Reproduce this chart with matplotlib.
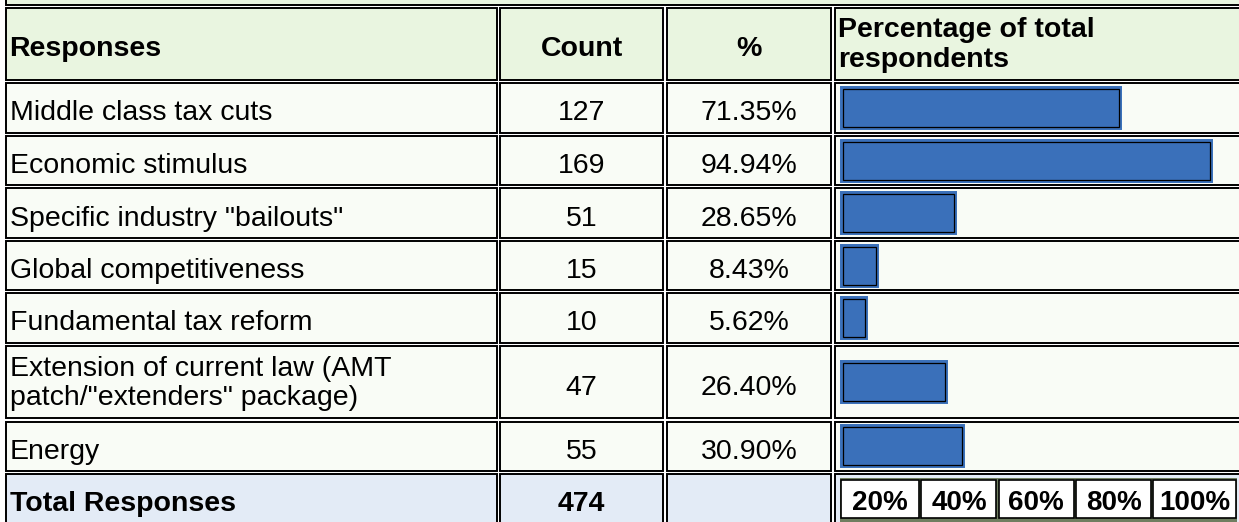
import matplotlib.pyplot as plt
from matplotlib.patches import Rectangle
import matplotlib.patheffects as pe

# table contents
headers = ['Responses', 'Count', '%', 'Percentage of total\nrespondents']
responses = ['Middle class tax cuts', 'Economic stimulus', 'Specific industry "bailouts"',
             'Global competitiveness', 'Fundamental tax reform',
             'Extension of current law (AMT\npatch/"extenders" package)', 'Energy']
counts = [127, 169, 51, 15, 10, 47, 55]
percents = [71.35, 94.94, 28.65, 8.43, 5.62, 26.40, 30.90]
total_label = 'Total Responses'
total_count = 474
scale_ticks = [20, 40, 60, 80, 100]

W, H = 1239, 522
FS = 20.5          # font size in pt (~28.5 px)
LINE_H = 29.5      # px between wrapped lines
BLUE = '#3a70ba'
HEAD_BG = '#e9f5e0'
ROW_BG = '#f9fcf6'
TOTAL_BG = '#e3ebf6'
plt.rcParams['font.family'] = ['Liberation Sans', 'DejaVu Sans']

# cell boundaries in pixels (layout only)
col_edges = [4.5, 498.5, 665, 833, 1250]
row_edges = [6.5, 81.5, 134.5, 186.5, 239.5, 291.5, 344.5, 420, 472.5, 540]

fig = plt.figure(figsize=(W / 100, H / 100), dpi=100)
fig.patch.set_facecolor('white')
ax = fig.add_axes([0, 0, 1, 1])
ax.set_xlim(0, W)
ax.set_ylim(H, 0)
ax.axis('off')


def cell(x0, x1, y0, y1, color):
    ax.add_patch(Rectangle((x0 + 1.6, y0 + 1.6), x1 - x0 - 3.2, y1 - y0 - 3.2,
                           facecolor=color, edgecolor='black', linewidth=1.4))


def cell_text(text, x0, x1, y0, y1, align='left', bold=False):
    lines = text.split('\n')
    n = len(lines)
    yc = (y0 + y1) / 2
    off = 12.5 if n == 1 else 8
    if align == 'left':
        x, ha = x0 + 5, 'left'
    else:
        x, ha = (x0 + x1) / 2, 'center'
    for i, ln in enumerate(lines):
        y = yc + off + (i - (n - 1) / 2) * LINE_H
        ax.text(x, y, ln, ha=ha, va='baseline', fontsize=FS,
                fontweight='bold' if bold else 'normal', color='black')


# cropped title strip above the table
cell(col_edges[0], col_edges[-1], -60, row_edges[0], HEAD_BG)

# header row
for j, h in enumerate(headers):
    x0, x1 = col_edges[j], col_edges[j + 1]
    y0, y1 = row_edges[0], row_edges[1]
    cell(x0, x1, y0, y1, HEAD_BG)
    cell_text(h, x0, x1, y0, y1, align='center' if j in (1, 2) else 'left', bold=True)

# data rows
for i, (name, c, p) in enumerate(zip(responses, counts, percents)):
    y0, y1 = row_edges[i + 1], row_edges[i + 2]
    for j in range(4):
        cell(col_edges[j], col_edges[j + 1], y0, y1, ROW_BG)
    cell_text(name, col_edges[0], col_edges[1], y0, y1)
    cell_text(str(c), col_edges[1], col_edges[2], y0, y1, align='center')
    cell_text(f'{p:.2f}%', col_edges[2], col_edges[3], y0, y1, align='center')

# total row
y0, y1 = row_edges[-2], row_edges[-1]
for j in range(4):
    cell(col_edges[j], col_edges[j + 1], y0, y1, TOTAL_BG)
cell_text(total_label, col_edges[0], col_edges[1], y0, 525, bold=True)
cell_text(str(total_count), col_edges[1], col_edges[2], y0, 525, align='center', bold=True)

# bar column: x axis is percentage of respondents
px_per_pct = 3.866
bar_left_px, bar_right_px, zero_px = 840, 1237, 843
axb = fig.add_axes([bar_left_px / W, 0, (bar_right_px - bar_left_px) / W, 1])
axb.set_xlim(-(zero_px - bar_left_px) / px_per_pct, (bar_right_px - zero_px) / px_per_pct)
axb.set_ylim(H, 0)
axb.axis('off')
axb.patch.set_alpha(0)

row_centers = [(row_edges[i + 1] + row_edges[i + 2]) / 2 for i in range(len(percents))]
axb.barh(row_centers, percents, height=38, left=0, color=BLUE, edgecolor='black',
         linewidth=0.9,
         path_effects=[pe.Stroke(linewidth=4.3, foreground=BLUE), pe.Normal()])

# percentage scale in the total row
xl0, xl1 = axb.get_xlim()
axb.add_patch(Rectangle((xl0, 478), xl1 - xl0, 46, facecolor='#6f7e60', edgecolor='none'))
edges = [xl0] + scale_ticks[:-1] + [xl1]
for k, t in enumerate(scale_ticks):
    a, b = edges[k] + 0.3, edges[k + 1] - 0.3
    axb.add_patch(Rectangle((a, 480), b - a, 38, facecolor='white',
                            edgecolor='black', linewidth=1.2))
    axb.text((a + b) / 2, 510.5, f'{t}%', ha='center', va='baseline',
             fontsize=20, fontweight='bold', color='black')

fig.savefig('out.png', dpi=100, facecolor=fig.get_facecolor())
